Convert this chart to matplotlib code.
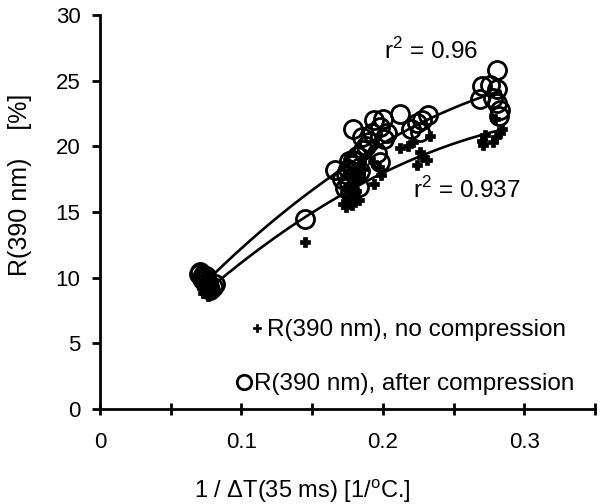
import numpy as np
import matplotlib
matplotlib.use("Agg")
import matplotlib.pyplot as plt
from matplotlib.ticker import MultipleLocator

plt.rcParams['font.family'] = ['Liberation Sans', 'DejaVu Sans']
plt.rcParams['mathtext.fontset'] = 'custom'
plt.rcParams['mathtext.rm'] = 'Liberation Sans'

# after compression (circles)
after_x = [0.070, 0.071, 0.072, 0.073, 0.074, 0.075, 0.076, 0.077, 0.078, 0.080, 0.081, 0.073, 0.075,
           0.145, 0.166,
           0.171, 0.173, 0.174, 0.175, 0.176, 0.177, 0.178, 0.179, 0.180, 0.181, 0.182, 0.179, 0.183,
           0.184, 0.186, 0.188, 0.185, 0.176,
           0.190, 0.192, 0.194, 0.196, 0.198, 0.200, 0.201, 0.203, 0.198,
           0.212, 0.220, 0.224, 0.228, 0.232, 0.226,
           0.281, 0.270, 0.276, 0.281, 0.269, 0.278, 0.281, 0.283, 0.282]
after_y = [10.3, 10.4, 10.0, 10.2, 9.7, 10.1, 9.5, 9.3, 9.1, 9.3, 9.5, 9.8, 9.6,
           14.5, 18.2,
           17.5, 16.8, 17.9, 18.3, 17.2, 16.5, 18.6, 19.0, 17.8, 18.9, 19.3, 21.3, 16.9,
           18.1, 19.7, 20.0, 20.7, 18.9,
           20.3, 21.0, 22.0, 19.5, 21.5, 22.1, 20.6, 21.0, 18.8,
           22.5, 21.3, 21.8, 22.0, 22.4, 21.1,
           25.8, 24.6, 24.7, 24.4, 23.6, 23.7, 23.3, 22.8, 22.3]

# no compression (crosses)
no_x = [0.072, 0.073, 0.074, 0.075, 0.076, 0.077, 0.078, 0.079, 0.080, 0.074, 0.076,
        0.145,
        0.172, 0.174, 0.175, 0.176, 0.177, 0.178, 0.179, 0.180, 0.181, 0.182, 0.183, 0.184, 0.178, 0.186,
        0.194, 0.199, 0.197, 0.193,
        0.212, 0.218, 0.221, 0.224, 0.228, 0.231, 0.233, 0.226,
        0.271, 0.270, 0.272, 0.278, 0.280, 0.283, 0.284, 0.279]
no_y = [9.2, 8.8, 9.5, 8.9, 9.3, 8.7, 9.0, 9.4, 8.9, 9.9, 8.6,
        12.7,
        15.6, 15.4, 16.2, 15.8, 16.8, 15.5, 17.2, 16.1, 16.6, 17.5, 15.9, 18.0, 17.8, 18.3,
        17.1, 17.8, 18.4, 18.8,
        19.9, 20.0, 20.3, 18.6, 19.2, 19.0, 20.8, 19.6,
        20.1, 20.4, 20.9, 20.3, 20.7, 21.0, 21.3, 22.1]

r2_after = "0.96"
r2_no = "0.937"
x_ticks = [0, 0.1, 0.2, 0.3]
x_ticklabels = ['0', '0.1', '0.2', '0.3']

fig = plt.figure(figsize=(6.0, 5.04), dpi=100)
ax = fig.add_axes([0.1667, 0.1885, 0.825, 0.7815])

h_no, = ax.plot(no_x, no_y, linestyle='none', marker='P', markersize=7, color='black',
                markeredgewidth=0.5, zorder=3)
h_af, = ax.plot(after_x, after_y, linestyle='none', marker='o', markersize=13, markerfacecolor='none',
                markeredgecolor='black', markeredgewidth=2.0, zorder=3)

for xs, ys in ((after_x, after_y), (no_x, no_y)):
    c = np.polyfit(xs, ys, 2)
    xx = np.linspace(min(xs), max(xs), 200)
    ax.plot(xx, np.polyval(c, xx), color='black', lw=1.9, zorder=4)

ax.text(0.201, 27.3, r"r$^2$ = " + r2_after, fontsize=17.5, va='center', ha='left')
ax.text(0.221, 16.7, r"r$^2$ = " + r2_no, fontsize=17.5, va='center', ha='left')

ax.set_xlim(0, 0.35)
ax.set_ylim(0, 30)
ax.set_xticks(x_ticks)
ax.set_xticklabels(x_ticklabels)
ax.xaxis.set_minor_locator(MultipleLocator(0.05))
ax.yaxis.set_major_locator(MultipleLocator(5))
for s in ('top', 'right'):
    ax.spines[s].set_visible(False)
for s in ('left', 'bottom'):
    ax.spines[s].set_linewidth(2.0)
ax.tick_params(axis='x', which='both', direction='inout', length=9, width=2.0, labelsize=16, pad=12)
ax.tick_params(axis='y', which='both', direction='out', length=6, width=2.0, labelsize=16, pad=8)

ax.set_xlabel('1 / \u0394T(35 ms) [1/$^{\\rm o}$C.]', fontsize=17)
ax.xaxis.set_label_coords(0.408, -0.172)
ax.set_ylabel('R(390 nm)    [%]', fontsize=18)
ax.yaxis.set_label_coords(-0.137, 0.569)

common = dict(loc='center left', frameon=False, fontsize=17.5, handlelength=0.6,
              handletextpad=0.1, borderpad=0, borderaxespad=0, markerscale=0.8,
              bbox_transform=fig.transFigure)
leg1 = ax.legend([h_no], ['R(390 nm), no compression'], bbox_to_anchor=(0.4167, 0.345), **common)
ax.add_artist(leg1)
leg2 = ax.legend([h_af], ['R(390 nm), after compression'], bbox_to_anchor=(0.395, 0.238), **common)

fig.savefig('out.png', dpi=100)
